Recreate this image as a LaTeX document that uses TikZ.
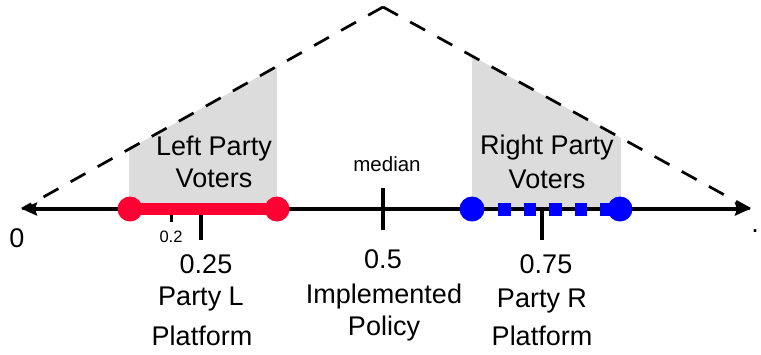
\documentclass[tikz,border=0pt]{standalone}
\usepackage{fontspec}
\setmainfont{Liberation Sans}
\usetikzlibrary{arrows.meta}
\definecolor{partyred}{HTML}{FF0033}
\definecolor{partyblue}{HTML}{0000FF}
\definecolor{votergray}{HTML}{DCDCDC}
\begin{document}
\begin{tikzpicture}[x=1pt,y=-1pt,
  lbl/.style={anchor=base,inner sep=0pt,font=\fontsize{27}{32}\selectfont},
  smalllbl/.style={anchor=base,inner sep=0pt,font=\fontsize{20.5}{24}\selectfont},
  tinylbl/.style={anchor=base,inner sep=0pt,font=\fontsize{16.5}{20}\selectfont},
  tickmark/.style={line width=3.5pt},
  densityline/.style={dash pattern=on 17pt off 14pt, line width=2.7pt},
  axisline/.style={line width=3.5pt,{Stealth[length=15pt,width=13pt,inset=2pt]}-{Stealth[length=15pt,width=13pt,inset=2pt]}},
  redbar/.style={partyred,line width=12pt},
  bluebar/.style={partyblue,line width=13pt,dash pattern=on 12.8pt off 12.7pt}
]
\useasboundingbox (0,0) rectangle (761,354);
\coordinate (L) at (22,209);
\coordinate (R) at (750,209);
\coordinate (A) at (383,7);
% shaded voter regions
\begin{scope}
  \clip (L) -- (A) -- (R) -- cycle;
  \fill[votergray] (129,0) rectangle (277,209);
  \fill[votergray] (472,0) rectangle (621,209);
\end{scope}
% density triangle
\draw[densityline] (A) -- (L);
\draw[densityline] (A) -- (R);
% axis
\draw[axisline] (L) -- (R);
% ticks
\coordinate (t2a) at (171,209); \coordinate (t2b) at (171,222);
\coordinate (t25a) at (201,209); \coordinate (t25b) at (201,240);
\coordinate (t5a) at (383,188); \coordinate (t5b) at (383,230);
\coordinate (t75a) at (542,209); \coordinate (t75b) at (542,240);
\draw[line width=3pt] (t2a) -- (t2b);
\draw[tickmark] (t25a) -- (t25b);
\draw[tickmark] (t5a) -- (t5b);
\draw[tickmark] (t75a) -- (t75b);
% left party
\coordinate (rl) at (130,209); \coordinate (rr) at (277,209);
\draw[redbar] (rl) -- (rr);
\fill[partyred] (rl) circle (12.5pt);
\fill[partyred] (rr) circle (12.5pt);
% right party
\coordinate (bl) at (472,209); \coordinate (br) at (620,209);
\coordinate (bs) at (498,209); \coordinate (be) at (613,209);
\draw[bluebar] (bs) -- (be);
\fill[partyblue] (bl) circle (12.5pt);
\fill[partyblue] (br) circle (12.5pt);
% labels
\node[lbl] (zero) at (17,247) {0};
\node[tinylbl] (ptwo) at (171,242) {0.2};
\node[lbl] (q1) at (206,273) {0.25};
\node[lbl] (pl1) at (201,305) {Party L};
\node[lbl] (pl2) at (202,345) {Platform};
\node[lbl] (half) at (383,268) {0.5};
\node[lbl] (ip1) at (384,303) {Implemented};
\node[lbl] (ip2) at (384,335) {Policy};
\node[lbl] (q3) at (546,273) {0.75};
\node[lbl] (pr1) at (542,307) {Party R};
\node[lbl] (pr2) at (542,345) {Platform};
\node[smalllbl] (med) at (387,171) {median};
\node[lbl] (lv1) at (214,155) {Left Party};
\node[lbl] (lv2) at (214,187) {Voters};
\node[lbl] (rv1) at (547,154) {Right Party};
\node[lbl] (rv2) at (547,188) {Voters};
\node[lbl] (dot) at (755,232) {.};
\end{tikzpicture}
\end{document}
